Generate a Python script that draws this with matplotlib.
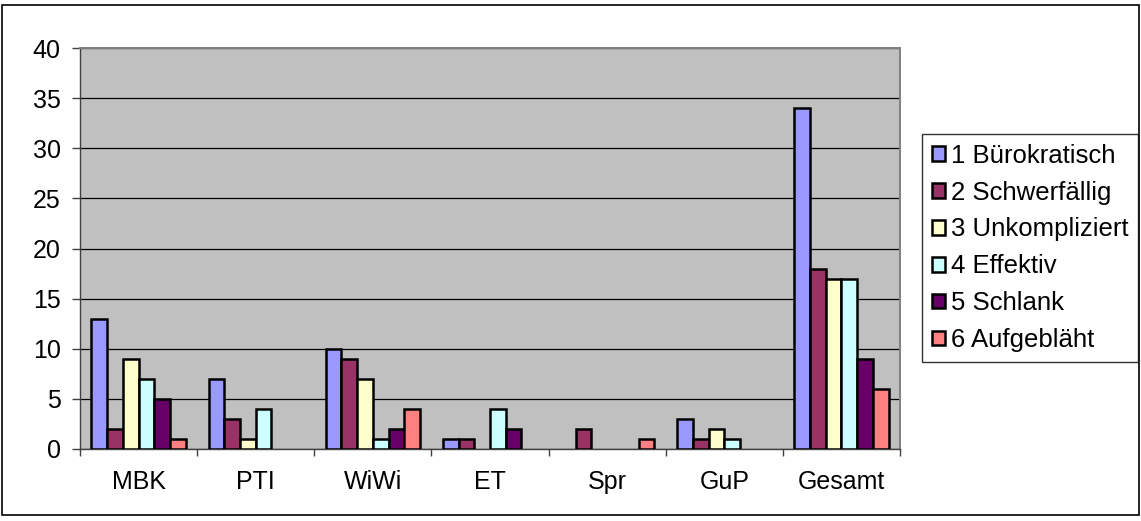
import matplotlib
matplotlib.use("Agg")
import matplotlib.pyplot as plt
import numpy as np
from matplotlib.patches import Rectangle

categories = ["MBK", "PTI", "WiWi", "ET", "Spr", "GuP", "Gesamt"]
series_names = ["1 Bürokratisch", "2 Schwerfällig", "3 Unkompliziert",
                "4 Effektiv", "5 Schlank", "6 Aufgebläht"]
s1 = [13, 7, 10, 1, 0, 3, 34]
s2 = [2, 3, 9, 1, 2, 1, 18]
s3 = [9, 1, 7, 0, 0, 2, 17]
s4 = [7, 4, 1, 4, 0, 1, 17]
s5 = [5, 0, 2, 2, 0, 0, 9]
s6 = [1, 0, 4, 0, 1, 0, 6]
series = [s1, s2, s3, s4, s5, s6]
colors = ["#9999FF", "#993366", "#FFFFCC", "#CCFFFF", "#660066", "#FF8080"]

plt.rcParams['font.family'] = ['Liberation Sans', 'DejaVu Sans']

W, H = 1141, 521
fig = plt.figure(figsize=(W / 100, H / 100), dpi=100)
fig.patch.set_facecolor("white")

# outer border
fig.add_artist(Rectangle((2 / W, 1 - 515 / H), (1139 - 2) / W, (515 - 5) / H,
                         transform=fig.transFigure, fill=False,
                         edgecolor="black", linewidth=1.2))

left, right, top, bottom = 80, 900, 48, 449
ax = fig.add_axes([left / W, 1 - bottom / H, (right - left) / W, (bottom - top) / H])
ax.set_facecolor("#C0C0C0")

n = len(categories)
x = np.arange(n)
bw = 0.134
for i, (vals, c, name) in enumerate(zip(series, colors, series_names)):
    offs = (i - 2.5) * bw
    bars = ax.bar(x + offs, vals, width=bw, color=c, edgecolor="black",
                  linewidth=1.8, label=name, zorder=3)
    for b, v in zip(bars, vals):
        if v == 0:
            b.set_visible(False)

FS = 18
ax.set_xlim(-0.5, n - 0.5)
ax.set_ylim(0, 40)
ax.set_yticks(range(0, 41, 5))
ax.yaxis.grid(True, color="black", linewidth=0.9, zorder=1)
ax.set_axisbelow(True)

ax.set_xticks(x)
ax.set_xticklabels(categories, fontsize=FS)
ax.set_xticks(np.arange(-0.5, n, 1), minor=True)
ax.tick_params(axis="x", which="major", length=0, pad=15)
ax.tick_params(axis="x", which="minor", length=5, color="#404040", width=1)
ax.tick_params(axis="y", labelsize=FS, length=6, color="#404040", width=1, pad=8)

for s in ["top", "right"]:
    ax.spines[s].set_color("#808080")
    ax.spines[s].set_linewidth(1.4)
ax.spines["left"].set_color("#404040")
ax.spines["bottom"].set_color("#404040")
ax.spines["left"].set_linewidth(1)
ax.spines["bottom"].set_linewidth(1)

leg = fig.legend(loc="upper left",
                 bbox_to_anchor=(922 / W, 1 - 134 / H),
                 frameon=True, fancybox=False, fontsize=18.5,
                 handlelength=0.5, handleheight=0.5, handletextpad=0.25,
                 labelspacing=0.5, borderpad=0.38, borderaxespad=0)
leg.get_frame().set_edgecolor("black")
leg.get_frame().set_linewidth(1)
for h in leg.legend_handles:
    h.set_linewidth(1.8)

fig.savefig("out.png", dpi=100)
